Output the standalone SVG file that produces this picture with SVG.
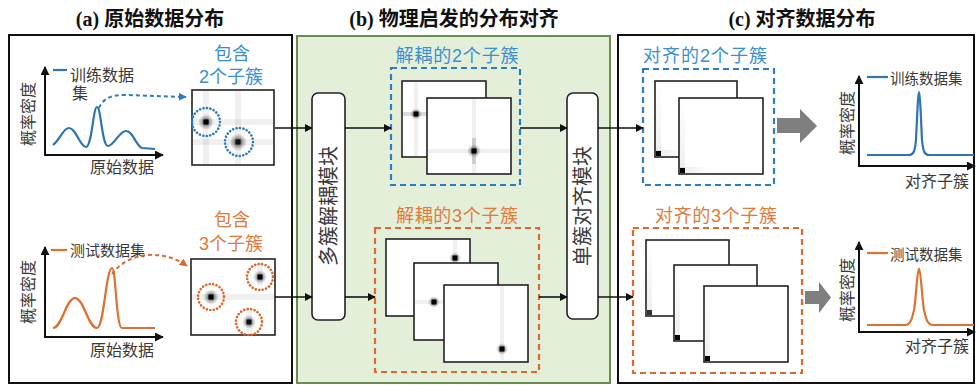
<svg xmlns="http://www.w3.org/2000/svg" width="977" height="385" viewBox="0 0 977 385">
<defs>
<style>
.title{font-family:"Liberation Serif","Noto Sans CJK SC",serif;font-weight:bold;font-size:20px;fill:#111;text-anchor:middle}
.lbl{font-family:"Liberation Sans","Noto Sans CJK SC",sans-serif;fill:#3a3a3a;text-anchor:middle}
.blueT{font-family:"Liberation Sans","Noto Sans CJK SC",sans-serif;fill:#3a8fd2;text-anchor:middle;font-size:18px}
.oranT{font-family:"Liberation Sans","Noto Sans CJK SC",sans-serif;fill:#e27a3c;text-anchor:middle;font-size:18px}
.panel{fill:#fff;stroke:#111;stroke-width:2}
.hm{fill:#fff;stroke:#222;stroke-width:1.6}
.axis{stroke:#111;stroke-width:2;fill:none}
.conn{stroke:#111;stroke-width:1.6;fill:none;marker-end:url(#ah)}
.mod{fill:#fff;stroke:#222;stroke-width:1.6}
.bdash{fill:none;stroke:#2d7dc4;stroke-width:2.2;stroke-dasharray:6 4}
.odash{fill:none;stroke:#e0682c;stroke-width:2.2;stroke-dasharray:6 4}
.bdot{fill:none;stroke:#2d7dc4;stroke-width:2.6;stroke-dasharray:0.1 3.4;stroke-linecap:round}
.odot{fill:none;stroke:#e0682c;stroke-width:2.6;stroke-dasharray:0.1 3.4;stroke-linecap:round}
.band{fill:#000;opacity:0.06}
.bandd{fill:#000;opacity:0.14}
.grey{fill:#7f7f7f}
</style>
<marker id="ah" viewBox="0 0 10 10" refX="9" refY="5" markerWidth="8" markerHeight="8" markerUnits="userSpaceOnUse" orient="auto">
<path d="M0,0 L10,5 L0,10 z" fill="#111"/>
</marker>
<marker id="ahB" viewBox="0 0 10 10" refX="9" refY="5" markerWidth="8" markerHeight="8" markerUnits="userSpaceOnUse" orient="auto">
<path d="M0,0 L10,5 L0,10 z" fill="#2d7dc4"/>
</marker>
<marker id="ahO" viewBox="0 0 10 10" refX="9" refY="5" markerWidth="8" markerHeight="8" markerUnits="userSpaceOnUse" orient="auto">
<path d="M0,0 L10,5 L0,10 z" fill="#e0682c"/>
</marker>
<marker id="axh" viewBox="0 0 10 10" refX="9" refY="5" markerWidth="9" markerHeight="9" markerUnits="userSpaceOnUse" orient="auto">
<path d="M0,0 L10,5 L0,10 z" fill="#111"/>
</marker>
<radialGradient id="spot">
<stop offset="0" stop-color="#000" stop-opacity="0.9"/>
<stop offset="0.45" stop-color="#222" stop-opacity="0.45"/>
<stop offset="1" stop-color="#666" stop-opacity="0"/>
</radialGradient>
<linearGradient id="cornerH" x1="0" x2="1" y1="0" y2="0">
<stop offset="0" stop-color="#000" stop-opacity="0.08"/>
<stop offset="1" stop-color="#000" stop-opacity="0"/>
</linearGradient>
<linearGradient id="cornerV" x1="0" x2="0" y1="1" y2="0">
<stop offset="0" stop-color="#000" stop-opacity="0.07"/>
<stop offset="1" stop-color="#000" stop-opacity="0"/>
</linearGradient>
</defs>

<!-- titles -->
<text class="title" x="150" y="26">(a) 原始数据分布</text>
<text class="title" x="454" y="26">(b) 物理启发的分布对齐</text>
<text class="title" x="802" y="26">(c) 对齐数据分布</text>

<!-- panels -->
<rect class="panel" x="9" y="35" width="283" height="348"/>
<rect x="297" y="36" width="313" height="347" fill="#e3efd9" stroke="#6a8c50" stroke-width="2"/>
<rect class="panel" x="618" y="35" width="356" height="348"/>

<!-- panel a: top chart -->
<g id="chart-a-train">
<line class="axis" x1="45" y1="155" x2="45" y2="67" marker-end="url(#axh)"/>
<line class="axis" x1="44" y1="155" x2="163" y2="155" marker-end="url(#axh)"/>
<text class="lbl" font-size="16" transform="translate(34,114) rotate(-90)">概率密度</text>
<text class="lbl" font-size="16" x="122" y="173">原始数据</text>
<line x1="53" y1="70" x2="67" y2="70" stroke="#2e75b6" stroke-width="2.2"/>
<text class="lbl" font-size="16" x="70" y="81" style="text-anchor:start">训练数据</text>
<text class="lbl" font-size="16" x="72" y="99" style="text-anchor:start">集</text>
<path d="M53,145 C60,140 63,128 69,128 C76,128 80,147 86,147 C92,147 93,107 97,107 C101,107 102,146 108,146 C114,146 119,131 126,131 C133,131 136,146 142,148 L155,149" fill="none" stroke="#2e75b6" stroke-width="2.2"/>
</g>

<g id="heatmap-a-train">
<rect class="hm" x="192" y="90" width="82" height="75"/>
<rect class="band" x="193" y="119" width="80" height="6"/>
<rect class="band" x="193" y="139" width="80" height="6"/>
<rect class="band" x="203" y="91" width="6" height="73"/>
<rect class="band" x="235" y="91" width="6" height="73"/>
<circle cx="206" cy="122" r="8" fill="url(#spot)"/>
<rect x="203.5" y="119.5" width="5" height="5" fill="#000"/>
<circle cx="238" cy="142" r="9" fill="url(#spot)"/>
<rect x="235.5" y="139.5" width="5" height="5" fill="#111"/>
<circle class="bdot" cx="206" cy="122" r="14"/>
<circle class="bdot" cx="239" cy="142" r="14"/>
</g>
<text class="blueT" x="232" y="60">包含</text>
<text class="blueT" x="231" y="83">2个子簇</text>

<!-- panel a: bottom chart -->
<g id="chart-a-test">
<line class="axis" x1="45" y1="337" x2="45" y2="247" marker-end="url(#axh)"/>
<line class="axis" x1="44" y1="337" x2="163" y2="337" marker-end="url(#axh)"/>
<text class="lbl" font-size="16" transform="translate(34,292) rotate(-90)">概率密度</text>
<text class="lbl" font-size="16" x="122" y="356">原始数据</text>
<line x1="51" y1="250" x2="67" y2="250" stroke="#e07030" stroke-width="2.2"/>
<text class="lbl" font-size="15" x="70" y="256" style="text-anchor:start">测试数据集</text>
<path d="M53,328 C62,328 66,298 75,298 C84,298 88,328 97,328 C104,328 106,268 112,268 C116,268 116,328 122,328 L155,328" fill="none" stroke="#e07030" stroke-width="2.2"/>
</g>

<g id="heatmap-a-test">
<rect class="hm" x="191" y="259" width="84" height="76"/>
<rect class="band" x="192" y="294" width="82" height="6"/>
<rect class="band" x="257" y="262" width="6" height="24"/>
<rect class="band" x="246" y="310" width="6" height="22"/>
<circle cx="211" cy="297" r="8" fill="url(#spot)"/>
<rect x="208.5" y="294.5" width="5" height="5" fill="#000"/>
<circle cx="260" cy="277" r="7" fill="url(#spot)"/>
<rect x="257.5" y="274.5" width="5" height="5" fill="#000"/>
<circle cx="249" cy="322" r="7" fill="url(#spot)"/>
<rect x="246.5" y="319.5" width="5" height="5" fill="#111"/>
<circle class="odot" cx="211" cy="297" r="13"/>
<circle class="odot" cx="260" cy="277" r="13"/>
<circle class="odot" cx="249" cy="322" r="13"/>
</g>
<text class="oranT" x="232" y="226">包含</text>
<text class="oranT" x="231" y="250">3个子簇</text>

<!-- panel b modules -->
<g id="module-decouple">
<rect class="mod" x="312" y="93" width="33" height="227" rx="6"/>
<text class="lbl" font-size="20" fill="#222" transform="translate(335.5,206) rotate(-90)">多簇解耦模块</text>
</g>
<g id="module-align">
<rect class="mod" x="567" y="93" width="31" height="226" rx="6"/>
<text class="lbl" font-size="20" fill="#222" transform="translate(590,206) rotate(-90)">单簇对齐模块</text>
</g>

<!-- decoupled 2 -->
<g id="decoupled-2">
<text class="blueT" x="457" y="62" textLength="123" lengthAdjust="spacing">解耦的2个子簇</text>
<rect class="bdash" x="391" y="68" width="129" height="117"/>
<rect class="hm" x="402" y="81" width="84" height="76"/>
<rect class="bandd" x="403" y="112" width="30" height="4"/>
<rect class="band" x="414" y="82" width="4" height="74"/>
<circle cx="416" cy="114" r="6" fill="url(#spot)"/>
<rect x="413.5" y="111.5" width="5" height="5" fill="#000"/>
<rect class="hm" x="427" y="98" width="84" height="76"/>
<rect class="band" x="428" y="149" width="82" height="4"/>
<rect class="band" x="472" y="99" width="4" height="74"/>
<rect class="bandd" x="472" y="138" width="4" height="26"/>
<circle cx="474" cy="151" r="7" fill="url(#spot)"/>
<rect x="471.5" y="148.5" width="5" height="5" fill="#000"/>
</g>

<!-- decoupled 3 -->
<g id="decoupled-3">
<text class="oranT" x="457" y="222" textLength="122" lengthAdjust="spacing">解耦的3个子簇</text>
<rect class="odash" x="375" y="228" width="164" height="144"/>
<rect class="hm" x="386" y="239" width="84" height="77"/>
<rect class="band" x="453" y="240" width="4" height="28"/>
<circle cx="455" cy="258" r="6" fill="url(#spot)"/>
<rect x="452.5" y="255.5" width="5" height="5" fill="#000"/>
<rect class="hm" x="414" y="263" width="84" height="77"/>
<rect class="band" x="415" y="300" width="36" height="4"/>
<circle cx="434" cy="302" r="6" fill="url(#spot)"/>
<rect x="431.5" y="299.5" width="5" height="5" fill="#000"/>
<rect class="hm" x="444" y="285" width="84" height="77"/>
<rect class="band" x="500" y="286" width="4" height="74"/>
<circle cx="502" cy="349" r="6" fill="url(#spot)"/>
<rect x="499.5" y="346.5" width="5" height="5" fill="#000"/>
</g>

<!-- aligned 2 -->
<g id="aligned-2">
<text class="blueT" x="705" y="62" textLength="124" lengthAdjust="spacing">对齐的2个子簇</text>
<rect class="bdash" x="643" y="69" width="131" height="116"/>
<rect class="hm" x="655" y="81" width="82" height="76"/>
<rect x="656" y="82" width="5" height="74" fill="url(#cornerV)"/>
<rect x="656" y="150" width="30" height="6" fill="url(#cornerH)"/>
<rect x="656" y="151" width="5" height="5" fill="#000"/>
<rect class="hm" x="679" y="98" width="84" height="76"/>
<rect x="680" y="99" width="5" height="74" fill="url(#cornerV)"/>
<rect x="680" y="167" width="30" height="6" fill="url(#cornerH)"/>
<rect x="680" y="168" width="5" height="5" fill="#000"/>
</g>

<!-- aligned 3 -->
<g id="aligned-3">
<text class="oranT" x="716" y="222" textLength="122" lengthAdjust="spacing">对齐的3个子簇</text>
<rect class="odash" x="633" y="228" width="169" height="145"/>
<rect class="hm" x="646" y="240" width="83" height="76"/>
<rect x="647" y="241" width="5" height="74" fill="url(#cornerV)"/>
<rect x="647" y="310" width="5" height="5" fill="#333"/>
<rect class="hm" x="674" y="265" width="83" height="76"/>
<rect x="675" y="266" width="5" height="74" fill="url(#cornerV)"/>
<rect x="675" y="335" width="5" height="5" fill="#000"/>
<rect class="hm" x="704" y="286" width="84" height="76"/>
<rect x="705" y="287" width="5" height="74" fill="url(#cornerV)"/>
<rect x="705" y="356" width="5" height="5" fill="#000"/>
</g>

<!-- grey block arrows -->
<g id="fat-arrow-top"><path class="grey" d="M777,118 L800,118 L800,109 L817,126 L800,143 L800,133 L777,133 z"/></g>
<g id="fat-arrow-bottom"><path class="grey" d="M805,291 L819,291 L819,282 L831,297.5 L819,313 L819,304 L805,304 z"/></g>

<!-- panel c charts -->
<g id="chart-c-train">
<line class="axis" x1="859" y1="166" x2="859" y2="76" marker-end="url(#axh)"/>
<line class="axis" x1="858" y1="166" x2="975" y2="166" marker-end="url(#axh)"/>
<line x1="867" y1="77" x2="888" y2="77" stroke="#2e75b6" stroke-width="2.2"/>
<text class="lbl" font-size="14.5" x="890" y="84" style="text-anchor:start">训练数据集</text>
<text class="lbl" font-size="16" transform="translate(853,123) rotate(-90)">概率密度</text>
<text class="lbl" font-size="16" x="937" y="187">对齐子簇</text>
<path d="M867,155 L909,155 C914,155 915,150 916,140 C917,120 918,92 919,92 C920,92 921,120 922,140 C923,150 924,155 929,155 L974,155" fill="none" stroke="#2e75b6" stroke-width="2.2"/>
</g>
<g id="chart-c-test">
<line class="axis" x1="859" y1="332" x2="859" y2="242" marker-end="url(#axh)"/>
<line class="axis" x1="858" y1="332" x2="975" y2="332" marker-end="url(#axh)"/>
<line x1="867" y1="253" x2="888" y2="253" stroke="#e07030" stroke-width="2.2"/>
<text class="lbl" font-size="14.5" x="890" y="260" style="text-anchor:start">测试数据集</text>
<text class="lbl" font-size="16" transform="translate(853,290) rotate(-90)">概率密度</text>
<text class="lbl" font-size="16" x="937" y="352">对齐子簇</text>
<path d="M867,325 L905,325 C911,325 912,318 914,310 C916,300 917,270 919,269 C921,270 922,300 924,310 C926,318 927,325 933,325 L974,325" fill="none" stroke="#e07030" stroke-width="2.2"/>
</g>

<!-- connectors -->
<g id="connectors">
<path class="conn" d="M275,128 L312,128"/>
<path class="conn" d="M275,297 L312,297"/>
<path class="conn" d="M345,128 L391,128"/>
<path class="conn" d="M345,297 L375,297"/>
<path class="conn" d="M520,128 L567,128"/>
<path class="conn" d="M539,297 L567,297"/>
<path class="conn" d="M598,128 L643,128"/>
<path class="conn" d="M598,297 L633,297"/>
<path d="M99,108 C104,97 112,95 126,95 L186,97" fill="none" stroke="#2d7dc4" stroke-width="2" stroke-dasharray="4 3" marker-end="url(#ahB)"/>
<path d="M112,274 C130,250 165,250 187,266" fill="none" stroke="#e0682c" stroke-width="2" stroke-dasharray="4 3" marker-end="url(#ahO)"/>
</g>
</svg>
